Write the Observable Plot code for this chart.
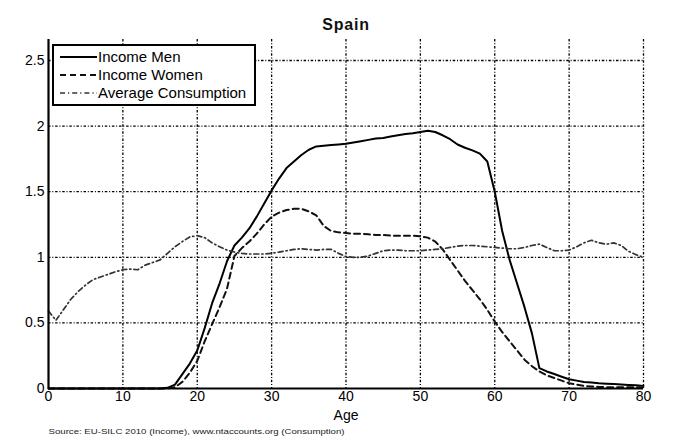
<!DOCTYPE html>
<html>
<head>
<meta charset="utf-8">
<script src="https://cdn.jsdelivr.net/npm/d3@7"></script>
<script src="https://cdn.jsdelivr.net/npm/@observablehq/plot@0.6"></script>
<style>
  html, body { margin: 0; padding: 0; background: #fff; }
  #chart svg { display: block; }
</style>
</head>
<body>
<div id="chart"></div>
<script>
const titleText = "Spain";
const xLabel = "Age";
const sourceText = "Source: EU-SILC 2010 (Income), www.ntaccounts.org (Consumption)";
const seriesNames = ["Income Men", "Income Women", "Average Consumption"];
const xTicks = [0, 10, 20, 30, 40, 50, 60, 70, 80];
const yTicks = [0, 0.5, 1, 1.5, 2, 2.5];
const ages = d3.range(0, 81);

const incomeMen = [
  0,0,0,0,0,0,0,0,0,0,
  0,0,0,0,0,0,0.005,0.03,0.11,0.19,
  0.29,0.46,0.65,0.8,0.97,1.09,1.15,1.22,1.31,1.41,
  1.51,1.6,1.68,1.73,1.78,1.82,1.845,1.85,1.855,1.86,
  1.865,1.875,1.885,1.895,1.905,1.91,1.92,1.93,1.94,1.945,
  1.955,1.965,1.955,1.93,1.9,1.86,1.835,1.815,1.79,1.73,
  1.5,1.2,0.98,0.8,0.62,0.42,0.155,0.13,0.11,0.09,
  0.07,0.06,0.05,0.045,0.04,0.037,0.034,0.03,0.027,0.024,
  0.02
];
const incomeWomen = [
  0,0,0,0,0,0,0,0,0,0,
  0,0,0,0,0,0,0,0.01,0.05,0.12,
  0.21,0.36,0.49,0.62,0.76,1.01,1.07,1.12,1.18,1.25,
  1.31,1.34,1.36,1.37,1.37,1.35,1.32,1.24,1.2,1.19,
  1.185,1.18,1.18,1.175,1.17,1.17,1.165,1.165,1.165,1.165,
  1.16,1.15,1.12,1.06,0.98,0.9,0.82,0.75,0.68,0.6,
  0.51,0.43,0.36,0.29,0.22,0.17,0.13,0.1,0.08,0.06,
  0.04,0.03,0.02,0.015,0.012,0.01,0.01,0.01,0.01,0.01,
  0.01
];
const avgConsumption = [
  0.59,0.52,0.6,0.68,0.74,0.79,0.83,0.85,0.87,0.89,
  0.905,0.91,0.905,0.94,0.96,0.98,1.03,1.08,1.12,1.155,
  1.165,1.15,1.11,1.08,1.055,1.04,1.03,1.025,1.025,1.025,
  1.03,1.04,1.05,1.06,1.065,1.06,1.055,1.06,1.06,1.03,
  1.005,1.0,1.0,1.01,1.03,1.05,1.055,1.055,1.05,1.05,
  1.05,1.055,1.06,1.065,1.075,1.085,1.09,1.09,1.085,1.08,
  1.075,1.07,1.065,1.065,1.075,1.09,1.1,1.075,1.05,1.05,
  1.055,1.08,1.11,1.13,1.11,1.1,1.11,1.09,1.045,1.02,
  1.0
];

const styles = [
  {stroke: "#000", strokeWidth: 2, dash: null},
  {stroke: "#111", strokeWidth: 2, dash: "6,4"},
  {stroke: "#333", strokeWidth: 1.7, dash: "5,3,1.2,3"}
];
const seriesValues = [incomeMen, incomeWomen, avgConsumption];
const table = seriesNames.flatMap((name, i) =>
  ages.map((a, j) => ({series: name, age: a, value: seriesValues[i][j]})));

const font = "'Liberation Sans', Arial, Helvetica, sans-serif";
const gridDash = "2.5,1.8,1,1.8";

const chart = Plot.plot({
  width: 697,
  height: 441,
  marginLeft: 48,
  marginRight: 54,
  marginTop: 39,
  marginBottom: 53,
  style: {fontFamily: font, fontSize: "14px", color: "#000", background: "#fff"},
  x: {domain: [0, 80]},
  y: {domain: [0, 2.66]},
  marks: [
    Plot.gridX(xTicks.slice(1), {stroke: "#000", strokeOpacity: 1, strokeWidth: 1.3, strokeDasharray: gridDash}),
    Plot.gridY(yTicks.slice(1), {stroke: "#000", strokeOpacity: 1, strokeWidth: 1.3, strokeDasharray: gridDash}),
    Plot.axisX(xTicks, {tickSize: 0, tickPadding: 3, label: null, fontSize: 14}),
    Plot.axisY(yTicks, {tickSize: 0, tickPadding: 4, label: null, fontSize: 14, tickFormat: d => String(d)}),
    ...seriesNames.map((name, i) => Plot.line(table.filter(d => d.series === name), {
      x: "age", y: "value",
      stroke: styles[i].stroke, strokeWidth: styles[i].strokeWidth,
      strokeDasharray: styles[i].dash, curve: "linear"
    })),
    Plot.ruleX([0], {stroke: "#000", strokeWidth: 2.2}),
    Plot.ruleY([0], {stroke: "#000", strokeWidth: 2.2}),
    Plot.text([titleText], {frameAnchor: "top", dy: -21, fontSize: 16, fontWeight: "bold", fill: "#111", text: d => d}),
    Plot.text([xLabel], {frameAnchor: "bottom", dy: 31, fontSize: 14, fill: "#000", text: d => d}),
    Plot.text([sourceText], {frameAnchor: "bottom-left", dy: 45, textAnchor: "start", fontSize: 8, fill: "#222", text: d => d})
  ]
});

document.getElementById("chart").appendChild(chart);

const svg = d3.select(chart);
svg.selectAll("text").filter(function() { return this.textContent === titleText; })
  .attr("letter-spacing", "0.8px");
svg.selectAll("text").filter(function() { return this.textContent === sourceText; })
  .attr("textLength", 296).attr("lengthAdjust", "spacingAndGlyphs");

// legend inside the plot (top-left)
const lg = svg.append("g").attr("transform", "translate(53,45)");
lg.append("rect").attr("x", 0).attr("y", 0).attr("width", 202).attr("height", 60)
  .attr("fill", "#fff").attr("stroke", "#000").attr("stroke-width", 2);
seriesNames.forEach((name, i) => {
  const yy = 12 + i * 18;
  lg.append("line").attr("x1", 7).attr("x2", 44).attr("y1", yy).attr("y2", yy)
    .attr("stroke", styles[i].stroke).attr("stroke-width", styles[i].strokeWidth)
    .attr("stroke-dasharray", styles[i].dash);
  lg.append("text").attr("x", 45).attr("y", yy).attr("dy", "0.35em")
    .attr("text-anchor", "start")
    .attr("font-family", font).attr("font-size", 15).attr("fill", "#000")
    .text(name);
});
</script>
</body>
</html>
